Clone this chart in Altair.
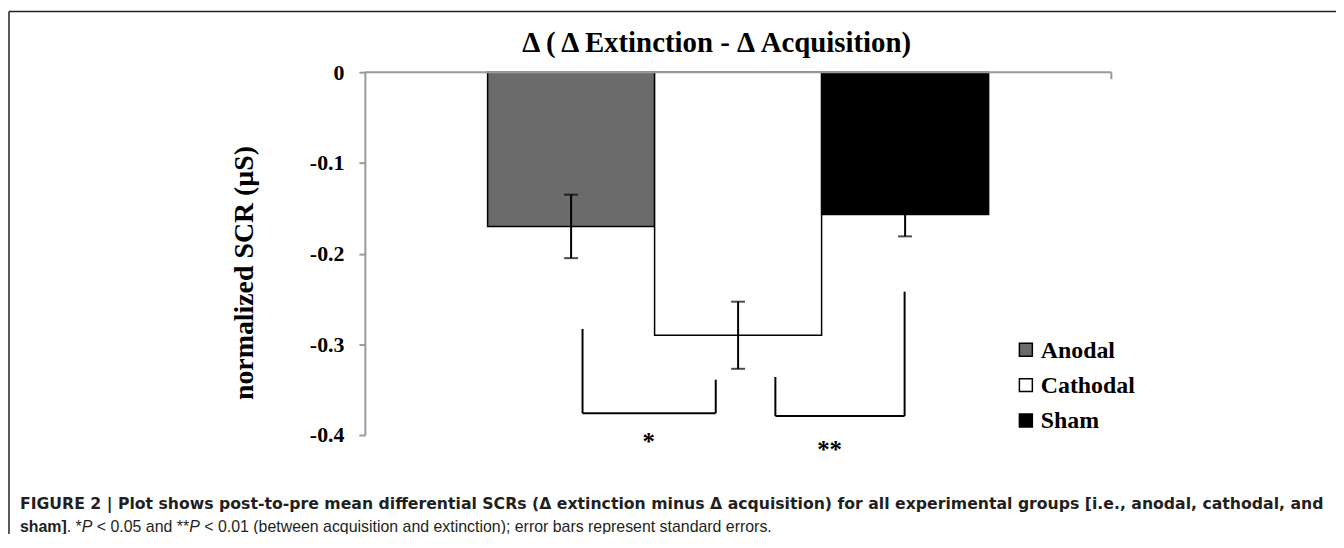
import altair as alt
import pandas as pd

# ---------------- data ----------------
groups = ["Anodal", "Cathodal", "Sham"]
means = [-0.170, -0.290, -0.157]
sems = [0.035, 0.037, 0.024]
fills = ["#6b6b6b", "#ffffff", "#000000"]

y_ticks = [0, -0.1, -0.2, -0.3, -0.4]

# significance brackets (x in plot pixels, y in axis units)
br_left_x = [219, 413]
br_right_x = [353, 543]
br_left_top = [-0.283, -0.336]
br_right_top = [-0.339, -0.242]
br_base = [-0.376, -0.379]
star_labels = ["*", "**"]
star_x = [285.5, 467.5]
star_y = [-0.405, -0.413]

# legend (drawn like the original, inside the plot)
legend_x = 665
legend_y = [-0.306, -0.345, -0.384]

title_text = "\u0394 ( \u0394 Extinction - \u0394 Acquisition)"
y_title = "normalized SCR (\u00b5S)"
caption_line1 = ("FIGURE 2 | Plot shows post-to-pre mean differential SCRs (\u0394 extinction minus "
                 "\u0394 acquisition) for all experimental groups [i.e., anodal, cathodal, and")
caption_line2 = ["sham]", ". *", "P", " < 0.05 and **", "P",
                 " < 0.01 (between acquisition and extinction); error bars represent standard errors."]
caption_line2_style = ["bold", "normal", "italic", "normal", "italic", "normal"]

# ---------------- layout ----------------
W, H = 751, 365
SERIF = "Liberation Serif"
SANS = "Liberation Sans"
CAP_FS = 16
PAD_L, PAD_T = 359, 63

# Arial/Liberation Sans advance widths (1/1000 em) for caption segment placement
w_reg = {" ": 278, ".": 278, "*": 389, "<": 584, "0": 556, "5": 556, "a": 556, "n": 556, "d": 556}
w_bold = {"s": 556, "h": 611, "a": 556, "m": 889, "]": 333}
w_ital = {"P": 667}


def seg_width(text, style):
    table = {"bold": w_bold, "italic": w_ital}.get(style, w_reg)
    return sum(table.get(c, 556) for c in text) * CAP_FS / 1000.0


bars_df = pd.DataFrame({
    "group": groups,
    "mean": means,
    "lo": [m - s for m, s in zip(means, sems)],
    "hi": [m + s for m, s in zip(means, sems)],
})

yscale = alt.Scale(domain=[-0.4, 0], nice=False, zero=False)
xband = alt.X("group:N", sort=groups, axis=None,
              scale=alt.Scale(paddingInner=0, paddingOuter=0.735))
color_scale = alt.Scale(domain=groups, range=fills)

bars = alt.Chart(bars_df).mark_bar(stroke="black", strokeWidth=1.5).encode(
    x=xband,
    y=alt.Y("mean:Q", scale=yscale,
            axis=alt.Axis(values=y_ticks, title=None, grid=False,
                          labelExpr="datum.value == 0 ? '0' : replace(format(datum.value, '.1f'), '\u2212', '-')",
                          domainColor="#9a9a9a", domainWidth=2, tickColor="#9a9a9a",
                          tickWidth=2, tickSize=6, labelFont=SERIF, labelFontWeight="bold",
                          labelFontSize=22, labelColor="black", labelPadding=15)),
    y2=alt.datum(0),
    fill=alt.Fill("group:N", scale=color_scale, legend=None),
)

err = alt.Chart(bars_df).mark_rule(color="black", strokeWidth=2).encode(
    x=xband, y=alt.Y("lo:Q", scale=yscale, axis=None), y2="hi:Q")
cap_lo = alt.Chart(bars_df).mark_tick(color="black", size=14, thickness=2).encode(
    x=xband, y=alt.Y("lo:Q", scale=yscale, axis=None))
cap_hi = alt.Chart(bars_df).mark_tick(color="black", size=14, thickness=2).encode(
    x=xband, y=alt.Y("hi:Q", scale=yscale, axis=None))

# bracket segments
segs = []
for lx, rx, lt, rt, b in zip(br_left_x, br_right_x, br_left_top, br_right_top, br_base):
    segs.append({"x": lx, "x2": lx, "y": lt, "y2": b})
    segs.append({"x": lx, "x2": rx, "y": b, "y2": b})
    segs.append({"x": rx, "x2": rx, "y": rt, "y2": b})
seg_df = pd.DataFrame(segs)
xpix = alt.Scale(domain=[0, W], nice=False, zero=False)

brackets = alt.Chart(seg_df).mark_rule(color="black", strokeWidth=2).encode(
    x=alt.X("x:Q", scale=xpix, axis=None), x2="x2:Q",
    y=alt.Y("y:Q", scale=yscale, axis=None), y2="y2:Q")

stars = alt.Chart(pd.DataFrame({"t": star_labels, "x": star_x, "y": star_y})).mark_text(
    font=SERIF, fontWeight="bold", fontSize=25, baseline="alphabetic", align="center", dy=11,
    color="black").encode(
    x=alt.X("x:Q", scale=xpix, axis=None),
    y=alt.Y("y:Q", scale=yscale, axis=None), text="t:N")

# x axis line at zero with end tick
zero_df = pd.DataFrame({"x": [0], "x2": [W], "y": [0]})
zero_line = alt.Chart(zero_df).mark_rule(color="#9a9a9a", strokeWidth=2).encode(
    x=alt.X("x:Q", scale=xpix, axis=None), x2="x2:Q",
    y=alt.Y("y:Q", scale=yscale, axis=None))
end_tick = alt.Chart(zero_df).mark_rule(color="#9a9a9a", strokeWidth=2).encode(
    x=alt.X("x2:Q", scale=xpix, axis=None),
    y=alt.Y("y:Q", scale=yscale, axis=None), y2=alt.value(7))

# legend
leg_df = pd.DataFrame({"group": groups, "x": [legend_x] * 3, "y": legend_y})
leg_sq = alt.Chart(leg_df).mark_square(size=170, stroke="black", strokeWidth=1.5, opacity=1).encode(
    x=alt.X("x:Q", scale=xpix, axis=None),
    y=alt.Y("y:Q", scale=yscale, axis=None),
    fill=alt.Fill("group:N", scale=color_scale, legend=None))
leg_txt = alt.Chart(leg_df).mark_text(font=SERIF, fontWeight="bold", fontSize=24, align="left",
                                      baseline="middle", dx=15, dy=1, color="black").encode(
    x=alt.X("x:Q", scale=xpix, axis=None),
    y=alt.Y("y:Q", scale=yscale, axis=None), text="group:N")

one = pd.DataFrame({"a": [0]})
title = alt.Chart(one).mark_text(font=SERIF, fontWeight="bold", fontSize=29, align="center",
                                 baseline="middle", color="black").encode(
    x=alt.value(354), y=alt.value(-29), text=alt.value(title_text))
ytitle = alt.Chart(one).mark_text(font=SERIF, fontWeight="bold", fontSize=28, align="center",
                                  baseline="middle", angle=270, color="black").encode(
    x=alt.value(246 - (PAD_L + 8)), y=alt.value(202), text=alt.value(y_title))

cap_x0 = 20 - (PAD_L + 8)
cap1 = alt.Chart(one).mark_text(font="DejaVu Sans", fontWeight="bold", fontSize=15.8, align="left",
                                baseline="middle", color="#231f20").encode(
    x=alt.value(cap_x0), y=alt.value(434), text=alt.value(caption_line1))
cap2_layers = []
xpos = float(cap_x0)
for txt, sty in zip(caption_line2, caption_line2_style):
    kw = {}
    if sty == "bold":
        kw["fontWeight"] = "bold"
    if sty == "italic":
        kw["fontStyle"] = "italic"
    lead = len(txt) - len(txt.lstrip(" "))
    start = xpos + seg_width(txt[:lead], "normal")
    cap2_layers.append(alt.Chart(one).mark_text(font=SANS, fontSize=CAP_FS, align="left",
                                                baseline="middle", color="#231f20", **kw).encode(
        x=alt.value(start), y=alt.value(458), text=alt.value(txt.strip(" "))))
    xpos += seg_width(txt, sty)

# figure border (top and left edges)
bx = 9 - (PAD_L + 8)
border_top = alt.Chart(one).mark_rule(color="#222222", strokeWidth=1.5).encode(
    x=alt.value(bx), x2=alt.value(1000), y=alt.value(-61))
border_left = alt.Chart(one).mark_rule(color="#222222", strokeWidth=1.5).encode(
    x=alt.value(bx), y=alt.value(-61), y2=alt.value(480))

chart = alt.layer(
    border_top, border_left, bars, zero_line, end_tick, err, cap_lo, cap_hi, brackets, stars,
    leg_sq, leg_txt, title, ytitle, cap1, *cap2_layers
).resolve_scale(x="independent").resolve_axis(y="independent").properties(
    width=W, height=H,
    autosize=alt.AutoSizeParams(type="none"),
    padding={"left": PAD_L, "top": PAD_T, "right": 1336 - PAD_L - W, "bottom": 526 - PAD_T - H},
    background="white",
).configure_view(stroke=None)

chart.save("out.html", embed_options={"renderer": "svg", "actions": False})
